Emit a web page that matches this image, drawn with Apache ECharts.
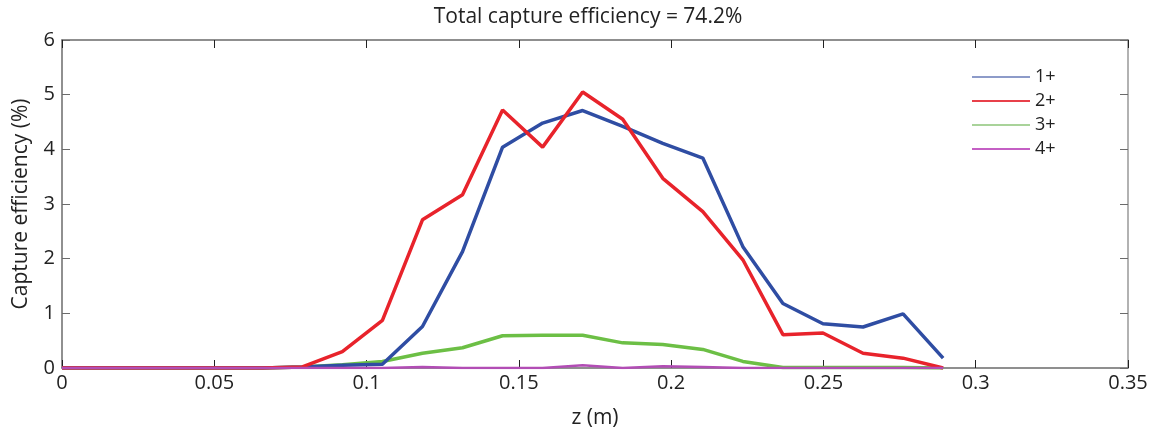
<!DOCTYPE html>
<html>
<head>
<meta charset="utf-8">
<title>Total capture efficiency</title>
<script src="https://cdn.jsdelivr.net/npm/echarts@6/dist/echarts.min.js"></script>
<style>
  html, body { margin: 0; padding: 0; background: #fff; }
  #chart { width: 1159px; height: 432px; }
</style>
</head>
<body>
<div id="chart"></div>
<script>
// z positions (m) of the samples
var zPos = [0, 0.01315, 0.0263, 0.03945, 0.0526, 0.06575, 0.0789, 0.09205, 0.1052, 0.11835,
            0.1315, 0.14465, 0.1578, 0.17095, 0.1841, 0.19725, 0.2104, 0.22355, 0.2367,
            0.24985, 0.263, 0.27615, 0.2893];
// capture efficiency (%) per charge state
var eff1 = [0, 0, 0, 0, 0, 0, 0.02, 0.05, 0.07, 0.76, 2.13, 4.04, 4.48, 4.71, 4.42, 4.11,
            3.84, 2.22, 1.18, 0.81, 0.75, 0.99, 0.18];
var eff2 = [0, 0, 0, 0, 0, 0, 0.02, 0.3, 0.87, 2.71, 3.17, 4.72, 4.04, 5.05, 4.55, 3.47,
            2.86, 1.98, 0.61, 0.64, 0.27, 0.18, 0];
var eff3 = [0, 0, 0, 0, 0, 0, 0.02, 0.06, 0.12, 0.27, 0.37, 0.59, 0.6, 0.6, 0.46, 0.43,
            0.34, 0.12, 0.01, 0.01, 0.01, 0.01, 0];
var eff4 = [0, 0, 0, 0, 0, 0, 0, 0, 0, 0.02, 0, 0, 0, 0.05, 0, 0.03,
            0.02, 0, 0, 0, 0, 0, 0];
var names = ['1+', '2+', '3+', '4+'];
var xTicks = ['0', '0.05', '0.1', '0.15', '0.2', '0.25', '0.3', '0.35'];

function pairs(ys) {
    var out = [];
    for (var i = 0; i < zPos.length; i++) {
        out.push([zPos[i], ys[i]]);
    }
    return out;
}

var font = 'Open Sans';
var axisGray = '#6b6b6b';

var option = {
    animation: false,
    backgroundColor: '#fff',
    title: {
        text: 'Total capture efficiency = 74.2%',
        left: 583,
        textAlign: 'center',
        top: 2,
        textStyle: { fontFamily: font, fontSize: 21, fontWeight: 'normal', color: '#222' }
    },
    legend: {
        orient: 'vertical',
        left: 967,
        top: 63,
        itemGap: 6,
        itemWidth: 58,
        itemHeight: 2,
        icon: 'rect',
        data: [
            { name: names[0], itemStyle: { color: '#8d9bc9' } },
            { name: names[1], itemStyle: { color: '#e8404a' } },
            { name: names[2], itemStyle: { color: '#a9d39a' } },
            { name: names[3], itemStyle: { color: '#c45fc4' } }
        ],
        textStyle: { fontFamily: font, fontSize: 18, color: '#222', lineHeight: 18 }
    },
    grid: { left: 62, right: 31, top: 40, bottom: 64, outerBoundsMode: 'none' },
    xAxis: [
        {
            type: 'value',
            min: 0,
            max: 0.35,
            interval: 0.05,
            name: 'z (m)',
            nameLocation: 'middle',
            nameGap: 40,
            nameTextStyle: { fontFamily: font, fontSize: 21, color: '#222' },
            axisLine: { onZero: false, lineStyle: { color: axisGray, width: 1.5 } },
            axisTick: { inside: true, length: 8, lineStyle: { color: '#222' } },
            axisLabel: {
                fontFamily: font, fontSize: 20, color: '#222', margin: 5,
                formatter: function (v) { return xTicks[Math.round(v / 0.05)]; }
            },
            splitLine: { show: false }
        },
        {
            type: 'value',
            position: 'top',
            min: 0,
            max: 0.35,
            interval: 0.05,
            axisLine: { onZero: false, lineStyle: { color: axisGray, width: 1.5 } },
            axisTick: { inside: true, length: 8, lineStyle: { color: '#222' } },
            axisLabel: { show: false },
            splitLine: { show: false }
        }
    ],
    yAxis: [
        {
            type: 'value',
            min: 0,
            max: 6,
            interval: 1,
            name: 'Capture efficiency (%)',
            nameLocation: 'middle',
            nameGap: 30,
            nameTextStyle: { fontFamily: font, fontSize: 21, color: '#222' },
            axisLine: { show: true, onZero: false, lineStyle: { color: axisGray, width: 1.5 } },
            axisTick: { show: true, inside: true, length: 8, lineStyle: { color: axisGray } },
            axisLabel: { fontFamily: font, fontSize: 20, color: '#222', margin: 7 },
            splitLine: { show: false }
        },
        {
            type: 'value',
            position: 'right',
            min: 0,
            max: 6,
            interval: 1,
            axisLine: { show: true, onZero: false, lineStyle: { color: '#999', width: 1.5 } },
            axisTick: { show: true, inside: true, length: 8, lineStyle: { color: axisGray } },
            axisLabel: { show: false },
            splitLine: { show: false }
        }
    ],
    series: [
        {
            name: names[0], type: 'line', symbol: 'none', data: pairs(eff1),
            lineStyle: { color: '#2f4da3', width: 3.5 }, itemStyle: { color: '#2f4da3' }, z: 3
        },
        {
            name: names[1], type: 'line', symbol: 'none', data: pairs(eff2),
            lineStyle: { color: '#e8232b', width: 3.5 }, itemStyle: { color: '#e8232b' }, z: 4
        },
        {
            name: names[2], type: 'line', symbol: 'none', data: pairs(eff3),
            lineStyle: { color: '#6cbf45', width: 3.5 }, itemStyle: { color: '#6cbf45' }, z: 2
        },
        {
            name: names[3], type: 'line', symbol: 'none', data: pairs(eff4),
            lineStyle: { color: '#b24db5', width: 2.5 }, itemStyle: { color: '#b24db5' }, z: 5
        }
    ]
};

var chart = echarts.init(document.getElementById('chart'));
chart.setOption(option);
</script>
</body>
</html>
